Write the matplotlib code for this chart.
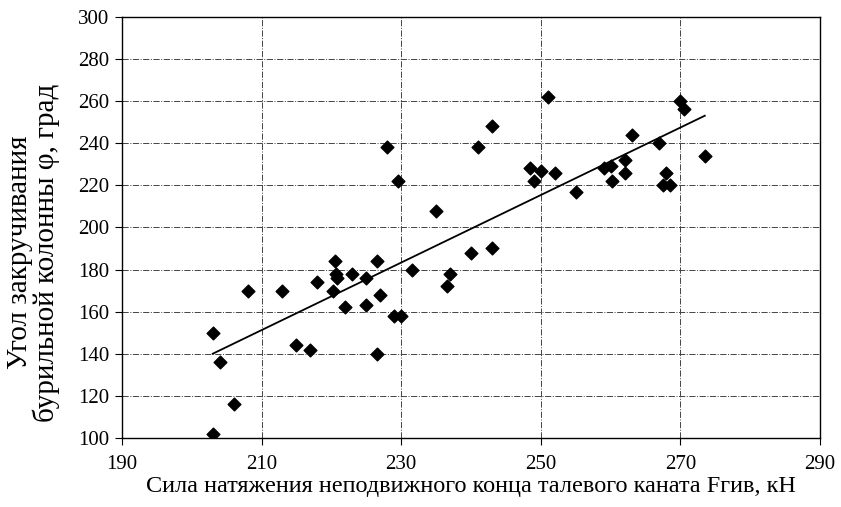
import matplotlib.pyplot as plt
import numpy as np

# Force on the dead line end, kN
force = [203, 204, 206, 203, 208, 213, 215, 217, 218, 220.5, 220.7, 220.8, 220.2,
         222, 223, 225, 225, 226.5, 227, 226.5, 228, 229.5, 229, 230, 231.5, 235,
         236.5, 237, 240, 241, 243, 243, 248.5, 250, 252, 249, 251, 255, 259, 260,
         262, 262, 260.2, 263, 267, 268, 267.5, 268.5, 270, 270.5, 273.5]
# Drill string twist angle, deg
angle = [150, 136, 116, 102, 170, 170, 144, 142, 174, 184, 178, 176, 170,
         162, 178, 163, 176, 184, 168, 140, 238, 222, 158, 158, 180, 208,
         172, 178, 188, 238, 248, 190, 228, 227, 226, 222, 262, 217, 228, 229,
         232, 226, 222, 244, 240, 226, 220, 220, 260, 256, 234]

plt.rcParams['font.family'] = ['Liberation Serif', 'DejaVu Serif']

fig = plt.figure(figsize=(8.41, 5.07), dpi=100)
ax = fig.add_axes([0.145, 0.136, 0.83, 0.831])

ax.scatter(force, angle, marker='D', s=42, color='black', zorder=3)

# linear trend
k, b = np.polyfit(force, angle, 1)
xs = np.array([min(force), max(force)])
ax.plot(xs, k * xs + b, color='black', linewidth=1.3, zorder=2)

ax.set_xlim(190, 290)
ax.set_ylim(100, 300)
ax.set_xticks(np.arange(190, 291, 20))
ax.set_yticks(np.arange(100, 301, 20))
ax.grid(True, color='#444444', linestyle='-.', linewidth=0.7)
for s in ax.spines.values():
    s.set_linewidth(1.0)
ax.tick_params(labelsize=15, direction='out', length=5, width=0.8)
ax.tick_params(axis='x', pad=7)
ax.tick_params(axis='y', pad=4)

ax.set_xlabel('Сила натяжения неподвижного конца талевого каната Fгив, кН',
              fontsize=17.5, labelpad=2)
ax.set_ylabel('Угол закручивания\nбурильной колонны φ, град', fontsize=21,
              linespacing=1.0, va='center')
ax.yaxis.set_label_coords(-0.127, 0.44)

fig.savefig('out.png', dpi=100)
